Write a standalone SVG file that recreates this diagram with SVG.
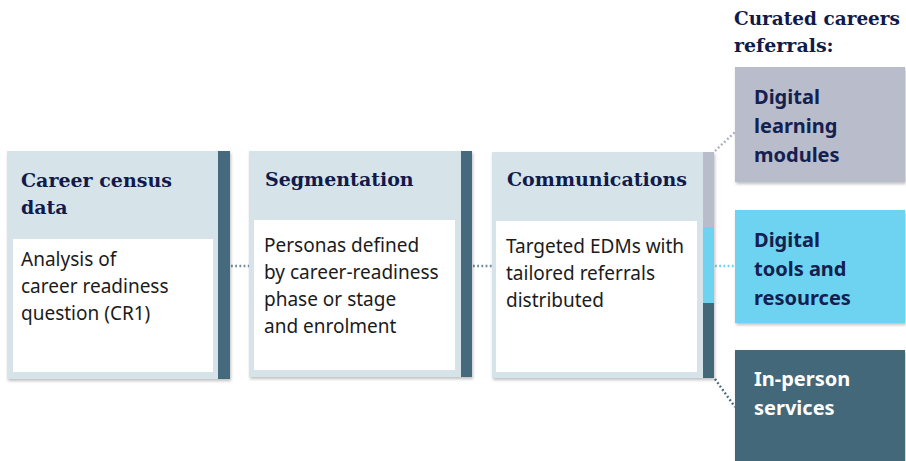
<svg xmlns="http://www.w3.org/2000/svg" width="906" height="461" viewBox="0 0 906 461">
  <defs>
    <filter id="sh" x="-10%" y="-10%" width="120%" height="120%">
      <feDropShadow dx="1" dy="2" stdDeviation="1.5" flood-color="#000" flood-opacity="0.25"/>
    </filter>
    <style>
      .panel { fill: #d6e4e9; }
      .inner { fill: #ffffff; }
      .bar { fill: #456b7e; }
      .title { font-family: "DejaVu Serif", serif; font-weight: bold; font-size: 19px; fill: #111a4a; }
      .body { font-family: "Noto Sans", "Open Sans", sans-serif; font-size: 19px; fill: #1b1b1b; }
      .ref { font-family: "Noto Sans", "Open Sans", sans-serif; font-weight: bold; font-size: 20px; fill: #14204f; }
      .refw { fill: #ffffff; }
      .dot { fill: none; stroke-width: 2.4; stroke-dasharray: 1.8 2.4; }
    </style>
  </defs>
  <rect width="906" height="461" fill="#ffffff"/>

  <g id="connectors">
    <line class="dot" x1="231" y1="266" x2="249" y2="266" stroke="#6f8d99"/>
    <line class="dot" x1="473" y1="266" x2="492" y2="266" stroke="#6f8d99"/>
    <line class="dot" x1="715" y1="151" x2="735" y2="132" stroke="#a9afbf"/>
    <line class="dot" x1="715" y1="266" x2="735" y2="266" stroke="#6dd3f0"/>
    <line class="dot" x1="715" y1="379" x2="735" y2="407" stroke="#43687a"/>
  </g>

  <g id="career-census">
    <g filter="url(#sh)">
      <rect class="panel" x="7" y="151" width="211" height="228"/>
      <rect class="bar" x="218" y="151" width="12" height="228"/>
    </g>
    <rect class="inner" x="13" y="239" width="200" height="133"/>
    <text class="title" x="21" y="187">Career census</text>
    <text class="title" x="21" y="214">data</text>
    <text class="body" x="21" y="266">Analysis of</text>
    <text class="body" x="21" y="293">career readiness</text>
    <text class="body" x="21" y="320">question (CR1)</text>
  </g>

  <g id="segmentation">
    <g filter="url(#sh)">
      <rect class="panel" x="249" y="151" width="212" height="226"/>
      <rect class="bar" x="461" y="151" width="11" height="226"/>
    </g>
    <rect class="inner" x="254" y="220" width="201" height="150"/>
    <text class="title" x="265" y="186">Segmentation</text>
    <text class="body" x="264" y="252">Personas defined</text>
    <text class="body" x="264" y="279">by career-readiness</text>
    <text class="body" x="264" y="306">phase or stage</text>
    <text class="body" x="264" y="333">and enrolment</text>
  </g>

  <g id="communications">
    <g filter="url(#sh)">
      <rect class="panel" x="492" y="152" width="211" height="226"/>
      <rect x="703" y="152" width="11" height="75" fill="#b8bccb"/>
      <rect x="703" y="227" width="11" height="76" fill="#6dd3f0"/>
      <rect x="703" y="303" width="11" height="75" fill="#43687a"/>
    </g>
    <rect class="inner" x="496" y="221" width="201" height="151"/>
    <text class="title" x="507" y="186">Communications</text>
    <text class="body" x="506" y="253">Targeted EDMs with</text>
    <text class="body" x="506" y="280">tailored referrals</text>
    <text class="body" x="506" y="307">distributed</text>
  </g>

  <g id="curated-title">
    <text class="title" x="734" y="25" font-size="18" textLength="166" lengthAdjust="spacingAndGlyphs">Curated careers</text>
    <text class="title" x="734" y="52" font-size="18">referrals:</text>
  </g>

  <g id="digital-learning">
    <rect x="735" y="67" width="170" height="115" fill="#b8bccb" filter="url(#sh)"/>
    <text class="ref" x="754" y="104">Digital</text>
    <text class="ref" x="754" y="133">learning</text>
    <text class="ref" x="754" y="162">modules</text>
  </g>

  <g id="digital-tools">
    <rect x="735" y="210" width="170" height="113" fill="#6dd3f0" filter="url(#sh)"/>
    <text class="ref" x="754" y="247">Digital</text>
    <text class="ref" x="754" y="276">tools and</text>
    <text class="ref" x="754" y="305">resources</text>
  </g>

  <g id="in-person">
    <rect x="735" y="350" width="170" height="115" fill="#43687a" filter="url(#sh)"/>
    <text class="ref refw" x="754" y="386">In-person</text>
    <text class="ref refw" x="754" y="415">services</text>
  </g>
</svg>
